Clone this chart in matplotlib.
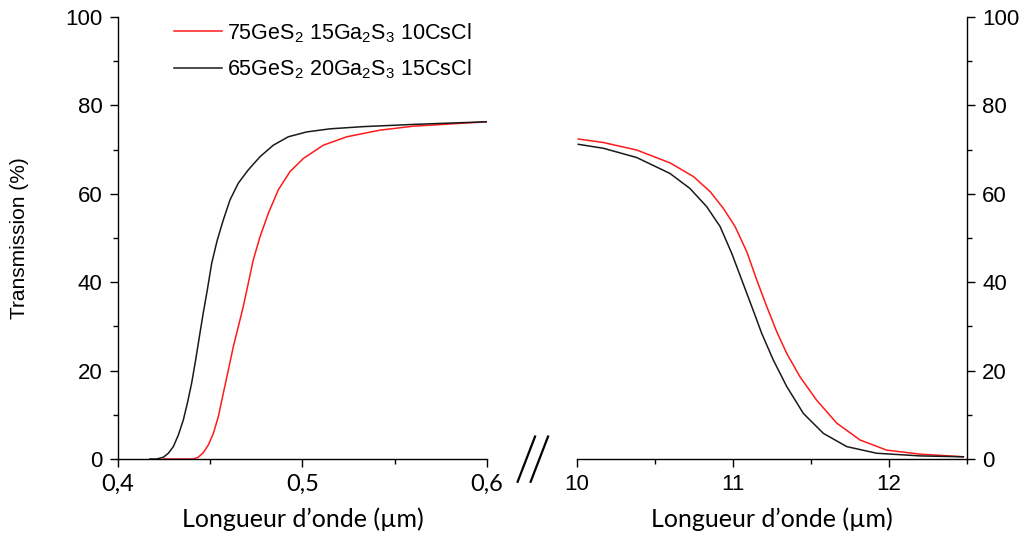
import matplotlib
matplotlib.use("Agg")
import matplotlib.pyplot as plt
from matplotlib.lines import Line2D
from matplotlib.ticker import MultipleLocator

plt.rcParams.update({
    "font.family": ["Liberation Sans", "DejaVu Sans"],
    "mathtext.fontset": "custom",
    "mathtext.rm": "Liberation Sans",
    "mathtext.it": "Liberation Sans:italic",
    "mathtext.bf": "Liberation Sans:bold",
    "font.size": 15,
    "axes.linewidth": 1.0,
    "xtick.direction": "out",
    "ytick.direction": "out",
})

LABEL_FONT = ["Lato", "DejaVu Sans"]

# ---- data ----
# visible range (µm) 0.4 - 0.6
wl_vis_black = [0.4173, 0.4210, 0.4246, 0.4273, 0.4300, 0.4327, 0.4354, 0.4376,
                0.4399, 0.4421, 0.4444, 0.4462, 0.4484, 0.4508, 0.4538, 0.4571,
                0.4607, 0.4652, 0.4706, 0.4770, 0.4842, 0.4923, 0.5023, 0.5149,
                0.5330, 0.5601, 0.6000]
tr_vis_black = [0.0, 0.0, 0.4, 1.3, 2.8, 5.4, 8.8, 12.6,
                17.1, 22.4, 28.4, 33.0, 38.2, 44.3, 49.5, 54.1,
                58.6, 62.4, 65.4, 68.4, 71.0, 72.9, 74.0, 74.7,
                75.2, 75.7, 76.3]

wl_vis_red = [0.4246, 0.4408, 0.4435, 0.4462, 0.4490, 0.4517, 0.4544, 0.4571,
              0.4598, 0.4625, 0.4652, 0.4679, 0.4706, 0.4733, 0.4770, 0.4815,
              0.4869, 0.4932, 0.5005, 0.5113, 0.5240, 0.5420, 0.5601, 0.6000]
tr_vis_red = [0.0, 0.0, 0.4, 1.4, 3.2, 5.8, 9.6, 14.9,
              20.1, 25.4, 29.9, 34.5, 39.7, 45.0, 50.3, 55.6,
              60.9, 65.0, 68.0, 71.0, 72.9, 74.4, 75.3, 76.3]

# infrared range (µm) 10 - 12.5
wl_ir_red = [10.008, 10.169, 10.383, 10.596, 10.746, 10.853, 10.938, 11.013,
             11.088, 11.152, 11.216, 11.280, 11.344, 11.429, 11.536, 11.665,
             11.814, 11.985, 12.199, 12.476]
tr_ir_red = [72.4, 71.6, 69.9, 67.0, 63.9, 60.5, 56.7, 52.6,
             46.9, 40.5, 34.5, 28.8, 23.9, 18.6, 13.3, 8.1,
             4.3, 2.0, 1.1, 0.5]

wl_ir_black = [10.008, 10.169, 10.383, 10.596, 10.724, 10.831, 10.917, 10.992,
               11.056, 11.120, 11.184, 11.258, 11.344, 11.451, 11.579, 11.729,
               11.921, 12.199, 12.476]
tr_ir_black = [71.2, 70.3, 68.2, 64.6, 61.2, 57.1, 52.6, 46.5,
               40.5, 34.5, 28.4, 22.4, 16.4, 10.3, 5.8, 2.8,
               1.3, 0.7, 0.5]

label_red = r"75GeS$_2$ 15Ga$_2$S$_3$ 10CsCl"
label_black = r"65GeS$_2$ 20Ga$_2$S$_3$ 15CsCl"

fig = plt.figure(figsize=(10.24, 5.45), dpi=100)
ax1 = fig.add_axes([0.1152, 0.1578, 0.3604, 0.811])
ax2 = fig.add_axes([0.5635, 0.1578, 0.3809, 0.811])

red = "#ff1a1a"
black = "#1a1a1a"

ax1.plot(wl_vis_red, tr_vis_red, color=red, lw=1.1, label=label_red)
ax1.plot(wl_vis_black, tr_vis_black, color=black, lw=1.1, label=label_black)
ax2.plot(wl_ir_red, tr_ir_red, color=red, lw=1.1)
ax2.plot(wl_ir_black, tr_ir_black, color=black, lw=1.1)

# left panel
ax1.set_xlim(0.4, 0.6)
ax1.set_ylim(0, 100)
ax1.spines[["top", "right"]].set_visible(False)
ax1.set_xticks([0.4, 0.5, 0.6], ["0,4", "0,5", "0,6"], family=LABEL_FONT, fontsize=17)
ax1.xaxis.set_minor_locator(MultipleLocator(0.05))
ax1.set_yticks([0, 20, 40, 60, 80, 100])
ax1.yaxis.set_minor_locator(MultipleLocator(10))
ax1.set_ylabel("Transmission (%)", fontsize=15, labelpad=26)
ax1.set_xlabel("Longueur d\u2019onde (\u00b5m)", fontsize=18, family=LABEL_FONT, labelpad=9)

# right panel
ax2.set_xlim(10, 12.5)
ax2.set_ylim(0, 100)
ax2.spines[["top", "left"]].set_visible(False)
ax2.yaxis.tick_right()
ax2.set_xticks([10, 11, 12])
ax2.xaxis.set_minor_locator(MultipleLocator(0.5))
ax2.set_yticks([0, 20, 40, 60, 80, 100])
ax2.yaxis.set_minor_locator(MultipleLocator(10))
ax2.set_xlabel("Longueur d\u2019onde (\u00b5m)", fontsize=18, family=LABEL_FONT, labelpad=9)

for ax in (ax1, ax2):
    ax.tick_params(which="major", length=6, width=1.0, labelsize=16, pad=5)
    ax.tick_params(which="minor", length=3.5, width=1.0)
ax1.tick_params(axis="x", labelsize=17)

ax1.legend(loc="upper left", bbox_to_anchor=(0.1, 1.035), frameon=False,
           fontsize=15.5, handlelength=2.2, handletextpad=0.25, labelspacing=0.6)

# axis break marks
for dx in (0.0, 0.0127):
    fig.add_artist(Line2D([0.5055 + dx, 0.5225 + dx], [0.116, 0.199],
                          transform=fig.transFigure, color="black", lw=1.6))

fig.savefig("out.png", dpi=100)
